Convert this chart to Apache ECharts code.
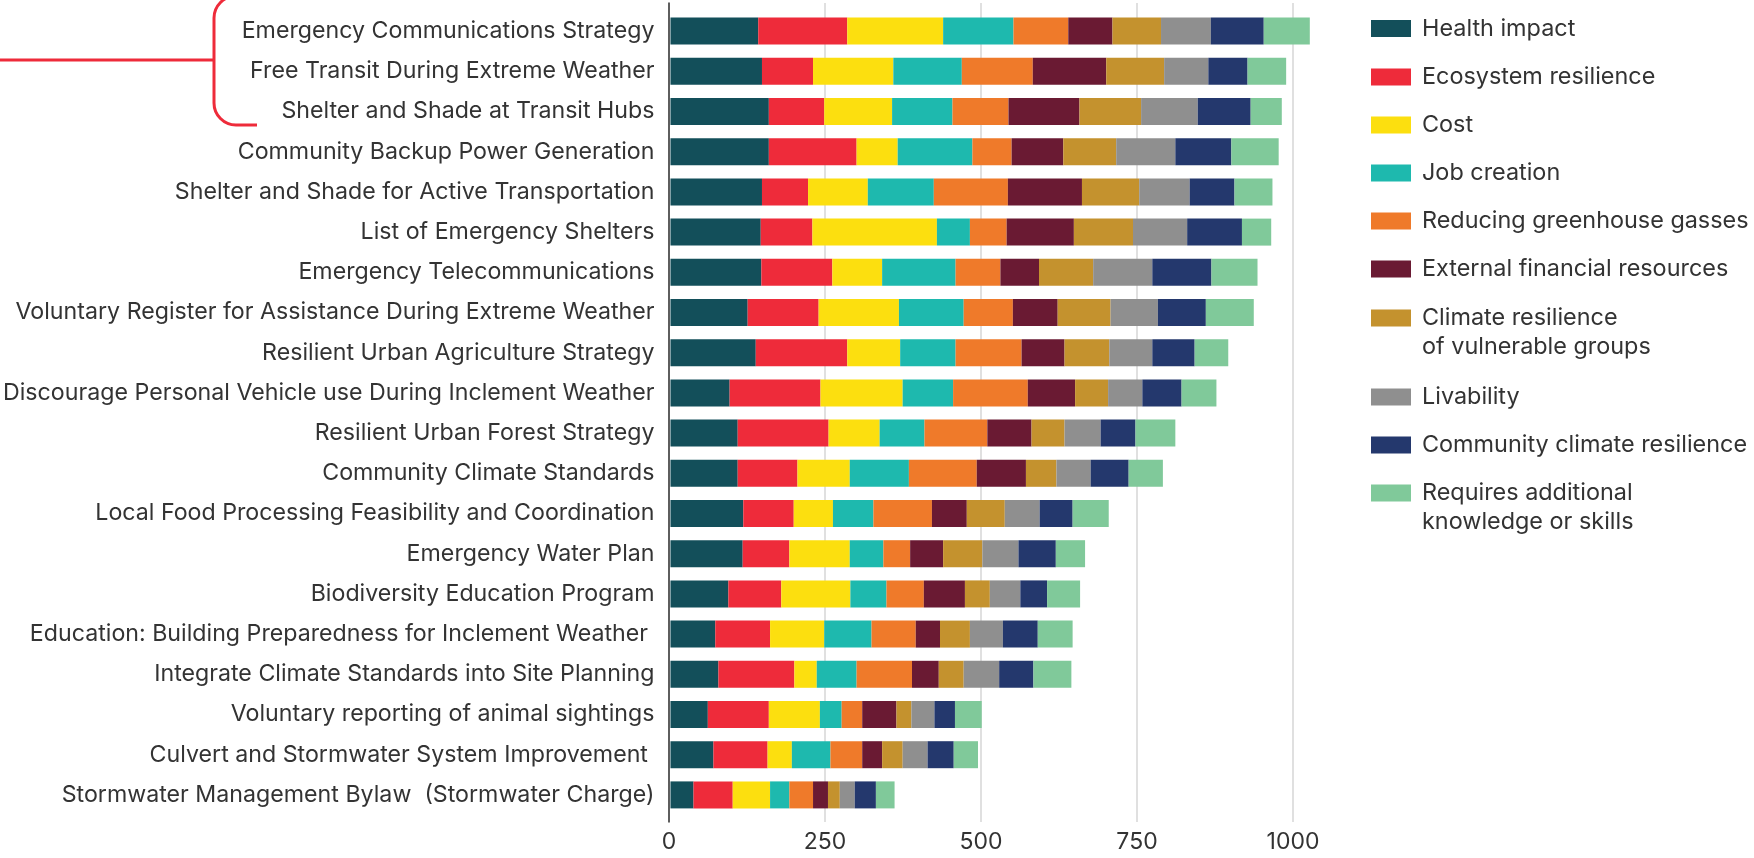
<!DOCTYPE html>
<html>
<head>
<meta charset="utf-8">
<script src="https://cdn.jsdelivr.net/npm/echarts@6/dist/echarts.min.js"></script>
<style>
  html, body { margin: 0; padding: 0; background: #ffffff; }
  #chart { width: 1754px; height: 858px; }
</style>
</head>
<body>
<div id="chart"></div>
<script>
// Actions, listed top to bottom
const actions = [
  'Emergency Communications Strategy',
  'Free Transit During Extreme Weather',
  'Shelter and Shade at Transit Hubs',
  'Community Backup Power Generation',
  'Shelter and Shade for Active Transportation',
  'List of Emergency Shelters',
  'Emergency Telecommunications',
  'Voluntary Register for Assistance During Extreme Weather',
  'Resilient Urban Agriculture Strategy',
  'Discourage Personal Vehicle use During Inclement Weather',
  'Resilient Urban Forest Strategy',
  'Community Climate Standards',
  'Local Food Processing Feasibility and Coordination',
  'Emergency Water Plan',
  'Biodiversity Education Program',
  'Education: Building Preparedness for Inclement Weather ',
  'Integrate Climate Standards into Site Planning',
  'Voluntary reporting of animal sightings',
  'Culvert and Stormwater System Improvement ',
  'Stormwater Management Bylaw  (Stormwater Charge)'
];

// Criteria scores per action
const healthImpact        = [141, 147, 158, 158, 147, 145, 146, 124, 137,  95, 108, 108, 117, 116,  93,  72,  77,  60,  69,  37];
const ecosystemResilience = [143,  82,  89, 141,  74,  83, 114, 114, 147, 146, 146,  96,  81,  75,  85,  88, 122,  98,  87,  63];
const cost                = [154, 129, 109,  66,  96, 200,  80, 129,  85, 132,  82,  84,  63,  97, 111,  87,  36,  82,  39,  60];
const jobCreation         = [113, 110,  97, 120, 106,  53, 118, 104,  89,  81,  72,  95,  65,  54,  58,  76,  64,  35,  62,  31];
const reducingGhg         = [ 88, 114,  90,  63, 119,  59,  72,  79, 106, 120, 101, 109,  94,  43,  60,  71,  89,  33,  51,  38];
const externalFinancial   = [ 71, 118, 114,  83, 119, 108,  62,  72,  69,  76,  71,  79,  56,  53,  66,  39,  43,  55,  32,  24];
const vulnerableGroups    = [ 78,  93,  99,  85,  92,  95,  87,  85,  72,  53,  53,  49,  61,  63,  40,  48,  40,  24,  33,  19];
const livability          = [ 80,  71,  91,  95,  81,  87,  95,  76,  69,  55,  58,  55,  56,  58,  49,  53,  57,  37,  40,  24];
const communityResilience = [ 85,  63,  85,  90,  72,  88,  95,  77,  68,  63,  56,  61,  53,  60,  43,  56,  55,  33,  42,  34];
const additionalKnowledge = [ 74,  62,  50,  76,  61,  47,  74,  77,  54,  56,  64,  55,  58,  47,  53,  56,  61,  43,  39,  30];

const xTicks = [0, 250, 500, 750, 1000];

const criteria = [
  { name: 'Health impact',                           data: healthImpact,        color: '#134F5A' },
  { name: 'Ecosystem resilience',                    data: ecosystemResilience, color: '#EE2B3A' },
  { name: 'Cost',                                    data: cost,                color: '#FCDF0F' },
  { name: 'Job creation',                            data: jobCreation,         color: '#1EB9AE' },
  { name: 'Reducing greenhouse gasses',              data: reducingGhg,         color: '#EF7A2A' },
  { name: 'External financial resources',            data: externalFinancial,   color: '#6A1A33' },
  { name: 'Climate resilience of vulnerable groups', data: vulnerableGroups,    color: '#C4922E' },
  { name: 'Livability',                              data: livability,          color: '#8F8F8F' },
  { name: 'Community climate resilience',            data: communityResilience, color: '#24386D' },
  { name: 'Requires additional knowledge or skills', data: additionalKnowledge, color: '#80C99A' }
];

// Two-line legend captions
const legendCaptions = {
  'Climate resilience of vulnerable groups': 'Climate resilience\nof vulnerable groups',
  'Requires additional knowledge or skills': 'Requires additional\nknowledge or skills'
};

const FONT = 'Inter, "Noto Sans", sans-serif';
const TEXT = '#333333';
const RED = '#EE2B3A';

// legend rows: centre of each swatch
const legendCentres = [28.5, 77, 125, 173, 221, 269, 318, 397, 445, 493];

const legends = criteria.map((c, i) => {
  const twoLine = !!legendCaptions[c.name];
  return {
    left: 1371,
    top: legendCentres[i] - (twoLine ? 43.5 : 14.5),
    orient: 'vertical',
    padding: 0,
    itemWidth: 40,
    itemHeight: 17,
    icon: 'rect',
    data: [c.name],
    formatter: name => legendCaptions[name] ? '\n' + legendCaptions[name] : name,
    textStyle: {
      fontFamily: FONT, fontSize: 23.4, color: TEXT, lineHeight: 29,
      padding: [0, 0, 0, 6]
    }
  };
});

// bracket grouping the top three actions
const bracketStyle = { stroke: RED, lineWidth: 3, fill: null };
const bracket = [
  { type: 'line', shape: { x1: 0, y1: 60, x2: 214, y2: 60 } },
  { type: 'arc', shape: { cx: 236, cy: 18, r: 22, startAngle: Math.PI, endAngle: Math.PI * 1.5, clockwise: true } },
  { type: 'line', shape: { x1: 214, y1: 18, x2: 214, y2: 103 } },
  { type: 'arc', shape: { cx: 236, cy: 103, r: 22, startAngle: Math.PI / 2, endAngle: Math.PI, clockwise: true } },
  { type: 'line', shape: { x1: 236, y1: 125, x2: 257, y2: 125 } }
].map(g => Object.assign(g, { silent: true, style: bracketStyle }));

const chart = echarts.init(document.getElementById('chart'), null, { renderer: 'canvas' });

chart.setOption({
  animation: false,
  backgroundColor: '#ffffff',
  legend: legends,
  grid: [
    { left: 669, right: 461, top: 11, bottom: 43 },
    { left: 669, right: 461, top: 3, bottom: 36 }
  ],
  xAxis: [
    { gridIndex: 0, type: 'value', min: 0, max: 1000, show: false },
    {
      gridIndex: 1, type: 'value', min: 0, max: 1000, interval: 250,
      axisLine: { show: false },
      axisTick: { show: false },
      axisLabel: {
        margin: 9, fontFamily: FONT, fontSize: 23, color: TEXT,
        formatter: v => xTicks.includes(v) ? String(v) : ''
      },
      splitLine: { show: true, lineStyle: { color: '#D6D6D6', width: 1.5 } }
    }
  ],
  yAxis: [
    {
      gridIndex: 0, type: 'category', data: actions, inverse: true,
      axisLine: { show: false },
      axisTick: { show: false },
      axisLabel: { margin: 16, fontFamily: FONT, fontSize: 23.2, color: TEXT }
    },
    {
      gridIndex: 1, type: 'value', min: 0, max: 1,
      axisLine: { show: true, lineStyle: { color: '#333333', width: 1.5 } },
      axisTick: { show: false },
      axisLabel: { show: false },
      splitLine: { show: false }
    }
  ],
  series: criteria.map(c => ({
    name: c.name,
    type: 'bar',
    stack: 'total',
    xAxisIndex: 0,
    yAxisIndex: 0,
    barWidth: 27,
    clip: false,
    itemStyle: { color: c.color },
    emphasis: { disabled: true },
    data: c.data
  })),
  graphic: bracket
});
</script>
</body>
</html>
